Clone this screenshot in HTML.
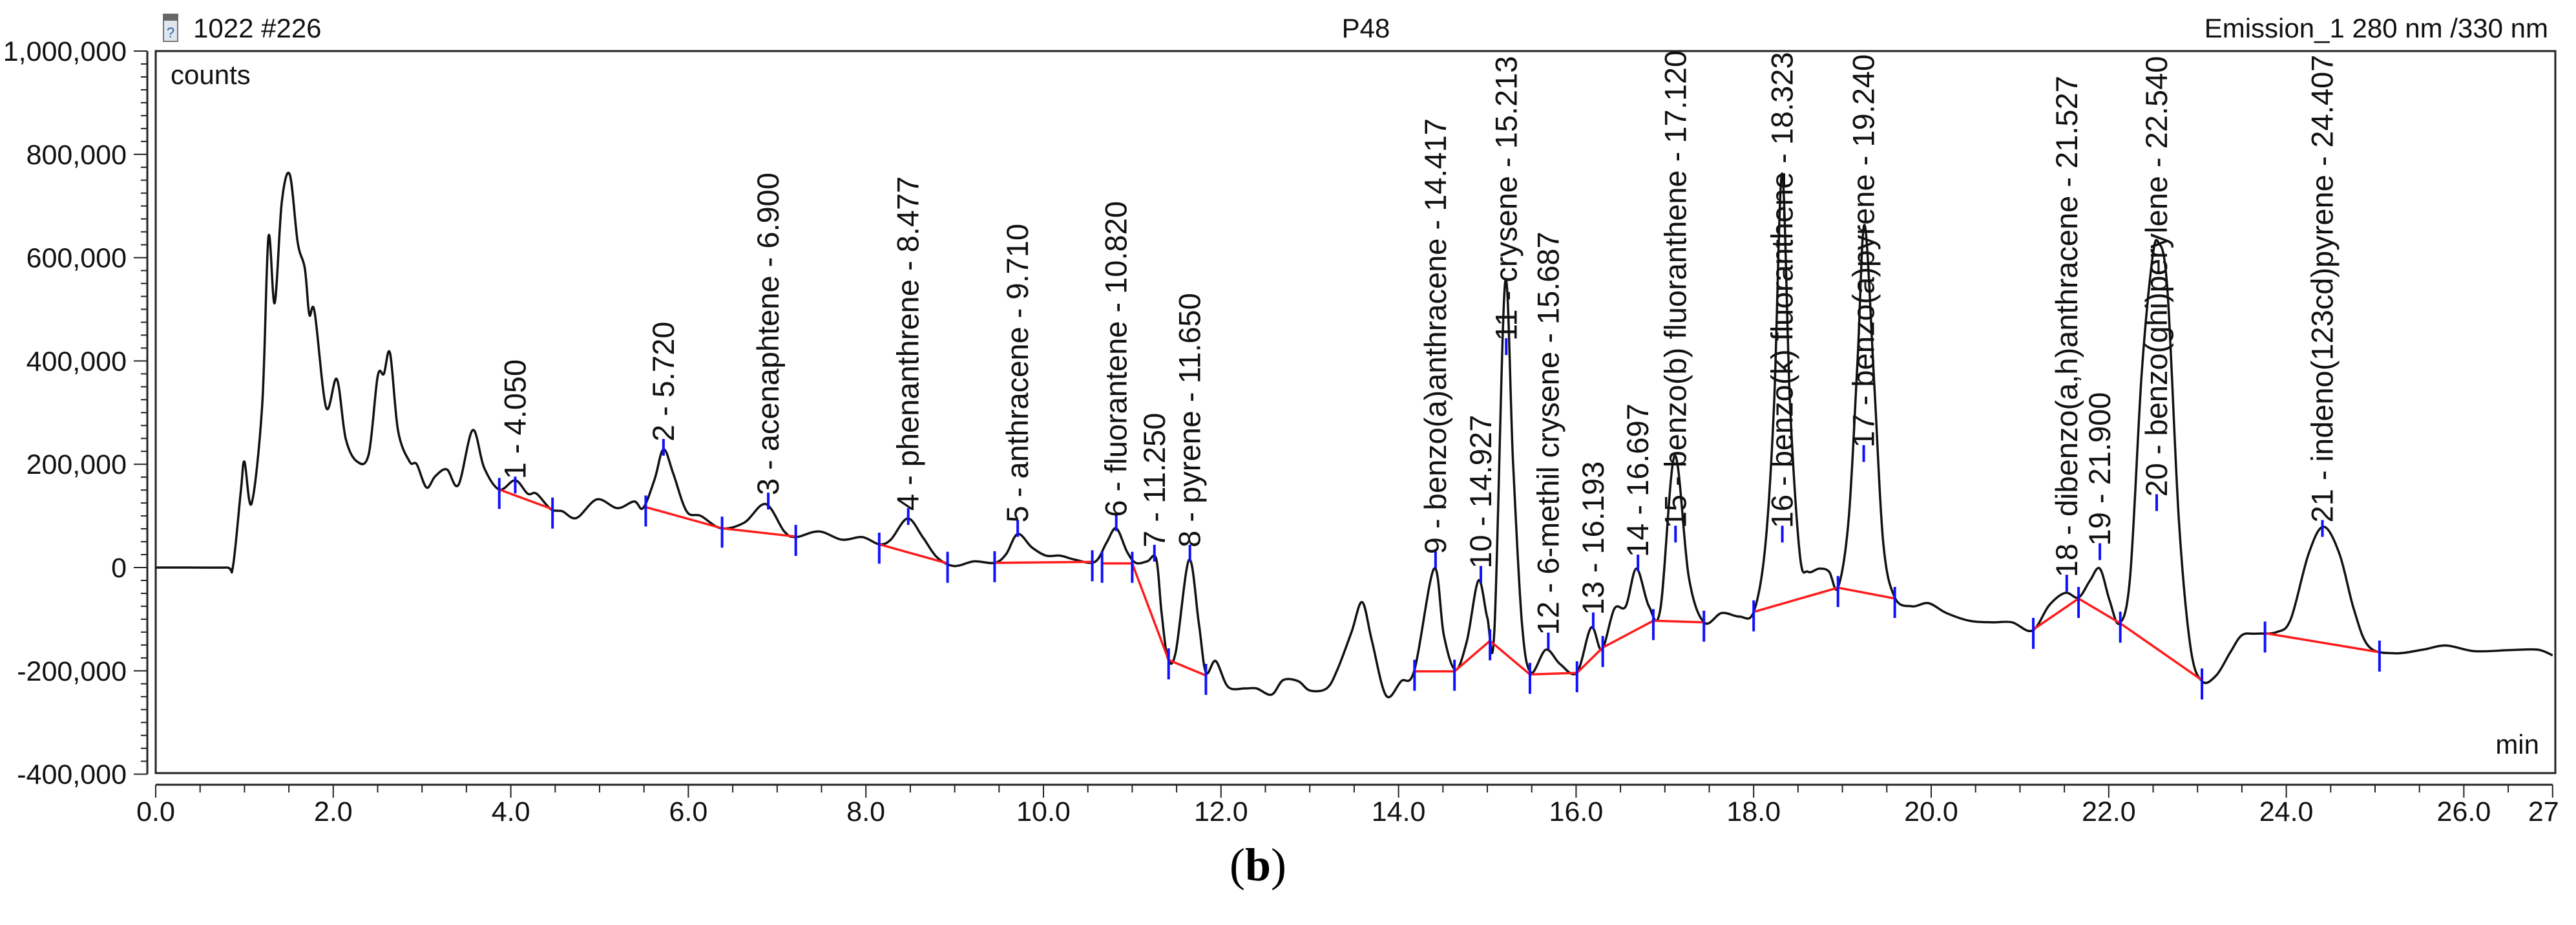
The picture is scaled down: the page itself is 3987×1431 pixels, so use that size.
<!DOCTYPE html>
<html><head><meta charset="utf-8"><style>
html,body{margin:0;padding:0;background:#fff;}
svg{display:block;font-family:"Liberation Sans",Arial,sans-serif;}
</style></head><body>
<svg id="chart" width="3987" height="1431" viewBox="0 0 3987 1431" xmlns="http://www.w3.org/2000/svg">
<rect width="3987" height="1431" fill="#fff"/>
<g>
<rect x="253" y="22" width="22" height="42" fill="#dfe6ee" stroke="#777" stroke-width="2"/>
<rect x="253" y="22" width="22" height="10" fill="#666"/>
<text x="264" y="58" font-size="22" text-anchor="middle" fill="#2b5fa8">?</text>
</g>
<text x="299" y="58" font-size="42" fill="#111">1022 #226</text>
<text x="2114" y="58" font-size="42" fill="#111" text-anchor="middle">P48</text>
<text x="3944" y="58" font-size="42" fill="#111" text-anchor="end">Emission_1 280 nm /330 nm</text>
<rect x="241" y="79" width="3714" height="1117" fill="none" stroke="#222" stroke-width="3"/>
<text x="264" y="130" font-size="42" fill="#111">counts</text>
<text x="3930" y="1166" font-size="42" fill="#111" text-anchor="end">min</text>
<g id="axes"></g>
<g id="series"></g>
<g id="labels"></g>
<text x="1947" y="1362" font-size="72" font-family="Liberation Serif, serif" text-anchor="middle" fill="#000">(<tspan font-weight="bold">b</tspan>)</text>
</svg>
<script>
const times=[0,0.4,0.8,0.87,0.96,1.0,1.08,1.2,1.27,1.34,1.42,1.51,1.6,1.68,1.73,1.79,1.92,2.04,2.14,2.27,2.4,2.5,2.57,2.64,2.73,2.86,2.94,3.05,3.15,3.28,3.41,3.57,3.7,3.87,4.05,4.19,4.29,4.45,4.58,4.74,4.97,5.2,5.39,5.49,5.62,5.72,5.83,5.98,6.14,6.37,6.63,6.87,7.08,7.21,7.47,7.73,7.96,8.15,8.28,8.47,8.64,8.8,8.99,9.22,9.45,9.58,9.71,9.87,10.03,10.19,10.36,10.58,10.71,10.82,10.94,11.04,11.17,11.27,11.33,11.4,11.49,11.64,11.75,11.83,11.94,12.08,12.27,12.4,12.57,12.7,12.87,13.0,13.19,13.31,13.47,13.59,13.7,13.86,14.03,14.18,14.4,14.51,14.64,14.77,14.9,15.0,15.08,15.2,15.29,15.39,15.49,15.66,15.82,16.01,16.17,16.29,16.43,16.56,16.68,16.82,16.95,17.11,17.27,17.44,17.64,17.84,18.0,18.13,18.23,18.32,18.41,18.52,18.61,18.74,18.85,18.95,19.07,19.17,19.25,19.36,19.46,19.59,19.78,19.97,20.17,20.43,20.69,20.91,21.14,21.33,21.51,21.66,21.79,21.9,22.01,22.12,22.24,22.37,22.49,22.56,22.66,22.79,22.92,23.05,23.21,23.37,23.5,23.66,23.89,24.05,24.25,24.42,24.6,24.76,24.93,25.22,25.54,25.8,26.12,26.51,26.83,27.0];
const counts=[0,0,0,2000,150000,205000,124000,316000,640000,512000,707000,761000,629000,579000,490000,495000,310000,365000,250000,205000,220000,370000,375000,415000,265000,205000,200000,155000,177000,190000,160000,266000,193000,151000,169000,143000,143000,113000,109000,96000,132000,115000,128000,115000,171000,229000,182000,109000,100000,76000,87000,123000,70000,59000,70000,54000,59000,45000,54000,95000,59000,20000,3000,12000,9000,26000,65000,39000,23000,23000,15000,11000,48000,76000,31000,9000,12000,17000,-86000,-175000,-164000,15000,-108000,-203000,-181000,-231000,-234000,-234000,-246000,-218000,-220000,-238000,-234000,-198000,-125000,-67000,-142000,-248000,-220000,-198000,-2000,-131000,-198000,-142000,-25000,-97000,-120000,551000,204000,-108000,-203000,-159000,-187000,-203000,-116000,-159000,-80000,-75000,-2000,-75000,-80000,216000,-19000,-106000,-88000,-95000,-86000,40000,316000,763000,316000,26000,-8000,-2000,-8000,-39000,93000,400000,663000,350000,48000,-58000,-75000,-69000,-88000,-103000,-106000,-106000,-122000,-73000,-49000,-58000,-25000,-2000,-64000,-108000,-19000,372000,596000,629000,540000,93000,-153000,-220000,-209000,-164000,-131000,-128000,-125000,-100000,26000,79000,26000,-80000,-153000,-166000,-159000,-151000,-162000,-160000,-159000,-170000];
const baselineSegs=[
 [[3.87,151000],[4.47,113000]],
 [[5.52,117000],[6.38,76000],[7.21,60000]],
 [[8.15,45000],[8.92,8000]],
 [[9.45,9000],[10.55,11000]],
 [[10.66,8000],[11.0,8000],[11.41,-179000],[11.83,-209000]],
 [[14.18,-201000],[14.63,-201000],[15.03,-142000],[15.48,-207000],[16.01,-204000],[16.3,-155000],[16.87,-103000],[17.44,-106000]],
 [[18.0,-86000],[18.95,-39000],[19.59,-60000]],
 [[21.15,-120000],[21.66,-60000],[22.13,-108000],[23.05,-218000]],
 [[23.76,-127000],[25.05,-164000]]
];
const peakNames=["1 - 4.050","2 - 5.720","3 - acenaphtene - 6.900","4 - phenanthrene - 8.477","5 - anthracene - 9.710","6 - fluorantene - 10.820","7 - 11.250","8 - pyrene - 11.650","9 - benzo(a)anthracene - 14.417","10 - 14.927","11 - crysene - 15.213","12 - 6-methil crysene - 15.687","13 - 16.193","14 - 16.697","15 - benzo(b) fluoranthene - 17.120","16 - benzo(k) fluoranthene - 18.323","17 - benzo(a)pyrene - 19.240","18 - dibenzo(a,h)anthracene - 21.527","19 - 21.900","20 - benzo(ghi)perylene - 22.540","21 - indeno(123cd)pyrene - 24.407"];
const peakTimes=[4.05,5.72,6.9,8.477,9.71,10.82,11.25,11.65,14.417,14.927,15.213,15.687,16.193,16.697,17.12,18.323,19.24,21.527,21.9,22.54,24.407];
const labelLevels=[171000,244000,140000,110000,87000,98000,39000,39000,26000,-2000,439000,-131000,-92000,20000,76000,76000,232000,-19000,42000,137000,87000];
const yTicks=[1000000,800000,600000,400000,200000,0,-200000,-400000];
const yTickLabels=["1,000,000","800,000","600,000","400,000","200,000","0","-200,000","-400,000"];
const xTicks=[0,2,4,6,8,10,12,14,16,18,20,22,24,26,27];
const xTickLabels=["0.0","2.0","4.0","6.0","8.0","10.0","12.0","14.0","16.0","18.0","20.0","22.0","24.0","26.0","27"];

const NS="http://www.w3.org/2000/svg";
const X=t=>241+t*137.4;
const Y=v=>878-v*0.000799;
function mk(tag,attrs,parent){const e=document.createElementNS(NS,tag);for(const k in attrs)e.setAttribute(k,attrs[k]);parent.appendChild(e);return e;}
const axes=document.getElementById('axes'),series=document.getElementById('series'),labels=document.getElementById('labels');

let yl=mk('line',{x1:228,y1:Y(1000000),x2:228,y2:Y(-400000),stroke:'#222','stroke-width':3},axes);


for(let v=-400000;v<=1000000;v+=25000){
 const major=v%200000===0;
 const tk=mk('line',{x1:major?207:218,y1:Y(v),x2:228,y2:Y(v),stroke:'#222','stroke-width':2},axes);
 
 
}
yTicks.forEach((v,i)=>{
 const t=mk('text',{x:196,y:Y(v)+15,'font-size':43,'text-anchor':'end',fill:'#111'},axes);
 t.textContent=yTickLabels[i];
 
 
});
let xl=mk('line',{x1:X(0),y1:1214,x2:X(27),y2:1214,stroke:'#222','stroke-width':3},axes);


for(let t=0;t<=27.001;t+=0.5){
 const major=Math.abs(t%2)<0.01||t>26.9;
 const tk=mk('line',{x1:X(t),y1:1214,x2:X(t),y2:major?1234:1226,stroke:'#222','stroke-width':2},axes);
 
 
}
xTicks.forEach((v,i)=>{
 const t=mk('text',{x:X(v)+(v===27?-14:0),y:1270,'font-size':43,'text-anchor':'middle',fill:'#111'},axes);
 t.textContent=xTickLabels[i];
 
 
});

const P=times.map((t,i)=>[X(t),Y(counts[i])]);
let d='M'+P[0][0].toFixed(1)+','+P[0][1].toFixed(1);
for(let i=0;i<P.length-1;i++){
 const p0=P[Math.max(0,i-1)],p1=P[i],p2=P[i+1],p3=P[Math.min(P.length-1,i+2)];
 const c1=[p1[0]+(p2[0]-p0[0])/6,p1[1]+(p2[1]-p0[1])/6];
 const c2=[p2[0]-(p3[0]-p1[0])/6,p2[1]-(p3[1]-p1[1])/6];
 d+=' C'+c1[0].toFixed(1)+','+c1[1].toFixed(1)+' '+c2[0].toFixed(1)+','+c2[1].toFixed(1)+' '+p2[0].toFixed(1)+','+p2[1].toFixed(1);
}
const tr=mk('path',{d:d,fill:'none',stroke:'#111','stroke-width':3.5,'stroke-linejoin':'round'},series);



baselineSegs.forEach(seg=>{
 const pl=mk('polyline',{points:seg.map(p=>X(p[0])+','+Y(p[1])).join(' '),fill:'none',stroke:'#ff1a1a','stroke-width':3.5},series);
 
 
 seg.forEach(p=>{
  const bt=mk('line',{x1:X(p[0]),y1:Y(p[1])-18,x2:X(p[0]),y2:Y(p[1])+30,stroke:'#1010ff','stroke-width':4},series);
  
  
 });
});

peakNames.forEach((name,i)=>{
 const x=X(peakTimes[i]),y=Y(labelLevels[i]);
 const tk=mk('line',{x1:x,y1:y-4,x2:x,y2:y+22,stroke:'#1010ff','stroke-width':4},labels);
 
 
 const t=mk('text',{x:0,y:0,'font-size':47,fill:'#111',transform:'translate('+(x+16)+','+y+') rotate(-90)'},labels);
 t.textContent=name;
 
 
});
</script>
</body></html>
